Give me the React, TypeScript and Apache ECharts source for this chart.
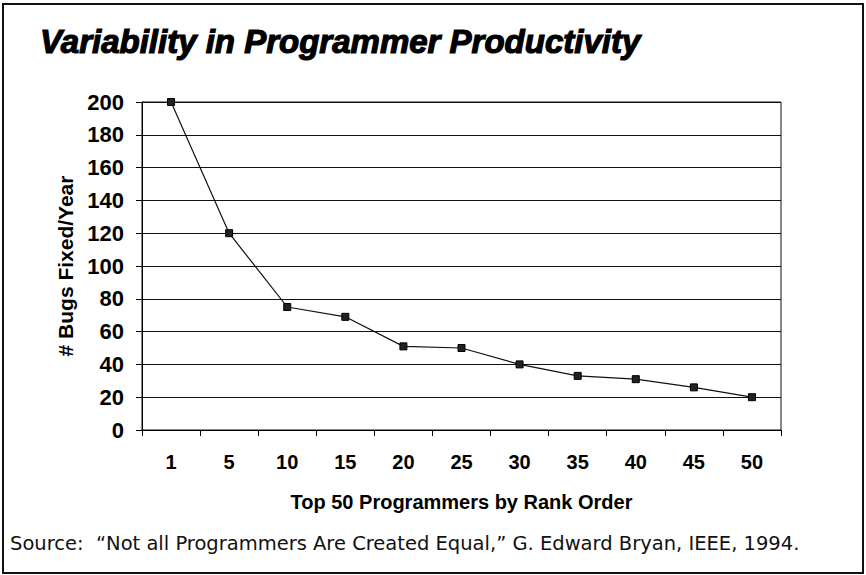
import React, { useEffect, useRef } from "react";
import * as echarts from "echarts";

const titleText = "Variability in Programmer Productivity";
const sourceText = "Source:  \u201CNot all Programmers Are Created Equal,\u201D G. Edward Bryan, IEEE, 1994.";
const xAxisName = "Top 50 Programmers by Rank Order";
const yAxisName = "# Bugs Fixed/Year";
const categories = ["1", "5", "10", "15", "20", "25", "30", "35", "40", "45", "50"];
const bugsFixed = [200, 120, 75, 69, 51, 50, 40, 33, 31, 26, 20];
const yMin = 0;
const yMax = 200;
const yStep = 20;

export default function App() {
  const ref = useRef<HTMLDivElement>(null);
  useEffect(() => {
    document.body.style.margin = "0";
    if (!ref.current) return;
    const chart = echarts.init(ref.current, undefined, { renderer: "svg" });
    const font = "'Liberation Sans', Arial, sans-serif";
    chart.setOption({
      animation: false,
      backgroundColor: "#fff",
      grid: {
        left: 142,
        right: 85,
        top: 102,
        bottom: 145,
        show: true,
        borderColor: "#111",
        borderWidth: 1,
        backgroundColor: "transparent",
      },
      xAxis: {
        type: "category",
        data: categories,
        boundaryGap: true,
        name: xAxisName,
        nameLocation: "middle",
        nameGap: 62,
        nameTextStyle: { fontFamily: font, fontWeight: "bold", fontSize: 20, color: "#000" },
        axisLine: { lineStyle: { color: "#000", width: 1 } },
        axisTick: { show: true, alignWithLabel: false, length: 6, lineStyle: { color: "#000" } },
        axisLabel: { fontFamily: font, fontWeight: "bold", fontSize: 20, color: "#000", margin: 22 },
        splitLine: { show: false },
      },
      yAxis: {
        type: "value",
        min: yMin,
        max: yMax,
        interval: yStep,
        name: yAxisName,
        nameLocation: "middle",
        nameGap: 66,
        nameTextStyle: { fontFamily: font, fontWeight: "bold", fontSize: 21, color: "#000" },
        axisLine: { show: true, lineStyle: { color: "#000", width: 1 } },
        axisTick: { show: true, length: 6, lineStyle: { color: "#000" } },
        axisLabel: { fontFamily: font, fontWeight: "bold", fontSize: 22, color: "#000", margin: 18 },
        splitLine: { show: true, lineStyle: { color: "#111", width: 1 } },
      },
      series: [
        {
          type: "line",
          data: bugsFixed,
          symbol: "rect",
          symbolSize: 7,
          showSymbol: true,
          lineStyle: { color: "#111", width: 1.2 },
          itemStyle: { color: "#222", borderColor: "#000", borderWidth: 1 },
        },
      ],
      graphic: [
        {
          type: "rect",
          shape: { x: 3, y: 4, width: 860, height: 569 },
          style: { fill: "none", stroke: "#111", lineWidth: 2 },
          silent: true,
        },
        {
          type: "text",
          x: 40,
          y: 41,
          style: {
            text: titleText,
            fontFamily: font,
            fontWeight: "bold",
            fontStyle: "italic",
            fontSize: 33,
            fill: "#000",
            stroke: "#000",
            lineWidth: 1.2,
            verticalAlign: "middle",
            align: "left",
          },
        },
        {
          type: "text",
          x: 10,
          y: 543,
          style: {
            text: sourceText,
            fontFamily: "'DejaVu Sans', sans-serif",
            fontSize: 19.5,
            fill: "#111",
            verticalAlign: "middle",
            align: "left",
          },
        },
      ],
    });
    return () => chart.dispose();
  }, []);
  return <div ref={ref} style={{ width: 866, height: 575 }} />;
}
